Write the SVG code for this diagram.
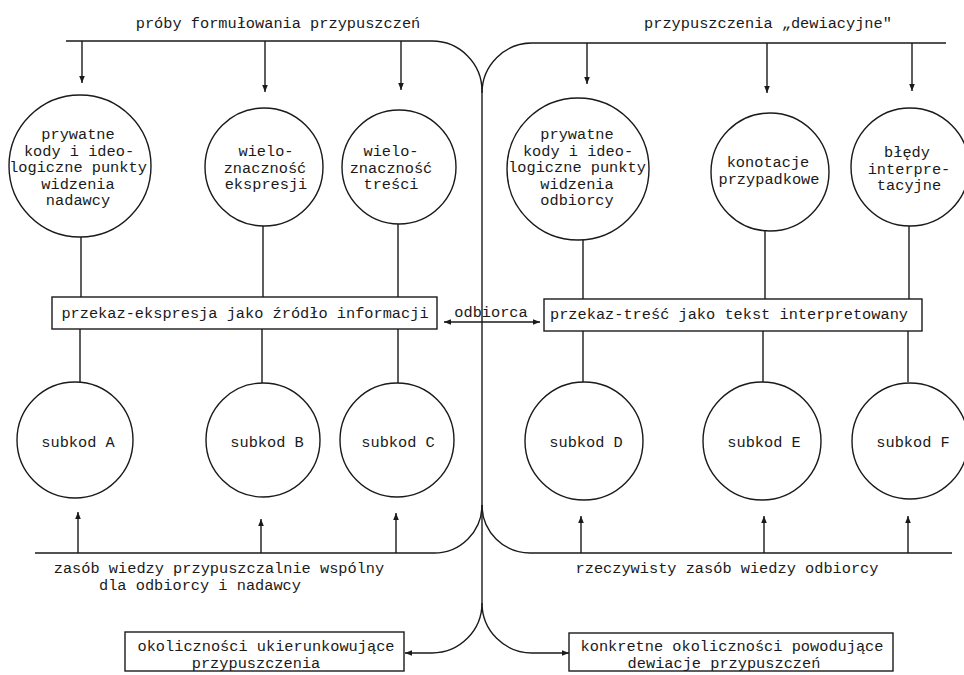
<svg xmlns="http://www.w3.org/2000/svg" width="964" height="675" viewBox="0 0 964 675">
<style>
text{font-family:"Liberation Mono","DejaVu Sans Mono",monospace;font-size:15.3px;fill:#1a1a1a;text-anchor:middle}
.n{fill:none;stroke:#1a1a1a;stroke-width:1.4}
.c{fill:none;stroke:#1a1a1a;stroke-width:1.4}
</style>
<defs>
<marker id="ah" viewBox="0 0 10 10" refX="10" refY="5" markerWidth="8" markerHeight="7" markerUnits="userSpaceOnUse" orient="auto-start-reverse">
<path d="M0,1 L10,5 L0,9 z" fill="#1a1a1a"/>
</marker>
</defs>
<rect width="964" height="675" fill="#fff"/>

<g id="labels">
<text x="278" y="28">próby formułowania przypuszczeń</text>
<text x="768" y="28">przypuszczenia „dewiacyjne"</text>
<text x="219" y="573">zasób wiedzy przypuszczalnie wspólny</text>
<text x="200" y="590">dla odbiorcy i nadawcy</text>
<text x="727" y="573">rzeczywisty zasób wiedzy odbiorcy</text>
</g>

<g id="connectors">
<path class="c" d="M66,41 H432 A50,50 0 0 1 482,91"/>
<path class="c" d="M482,93 A50,50 0 0 1 532,43 H946"/>
<path class="c" d="M482,91 V603"/>
<path class="c" d="M35,553 H434 A48,48 0 0 0 482,505"/>
<path class="c" d="M482,505 A48,48 0 0 0 530,553 H952"/>
<path class="c" d="M482,603 A50,50 0 0 1 432,653 H405" marker-end="url(#ah)"/>
<path class="c" d="M482,603 A50,50 0 0 0 532,653 H569" marker-end="url(#ah)"/>
<line class="c" x1="444" y1="322" x2="540" y2="322" marker-start="url(#ah)" marker-end="url(#ah)"/>
<line class="c" x1="82" y1="41" x2="82" y2="83" marker-end="url(#ah)"/>
<line class="c" x1="265" y1="41" x2="265" y2="92" marker-end="url(#ah)"/>
<line class="c" x1="401" y1="41" x2="401" y2="90" marker-end="url(#ah)"/>
<line class="c" x1="587" y1="43" x2="587" y2="84" marker-end="url(#ah)"/>
<line class="c" x1="767" y1="43" x2="767" y2="93" marker-end="url(#ah)"/>
<line class="c" x1="912" y1="43" x2="912" y2="91" marker-end="url(#ah)"/>
<line class="c" x1="78" y1="553" x2="78" y2="512" marker-end="url(#ah)"/>
<line class="c" x1="261" y1="553" x2="261" y2="519" marker-end="url(#ah)"/>
<line class="c" x1="396" y1="553" x2="396" y2="513" marker-end="url(#ah)"/>
<line class="c" x1="581" y1="553" x2="581" y2="516" marker-end="url(#ah)"/>
<line class="c" x1="764" y1="553" x2="764" y2="516" marker-end="url(#ah)"/>
<line class="c" x1="908" y1="553" x2="908" y2="516" marker-end="url(#ah)"/>
<line class="c" x1="81" y1="237" x2="81" y2="297"/>
<line class="c" x1="263" y1="226" x2="263" y2="297"/>
<line class="c" x1="398" y1="224" x2="398" y2="297"/>
<line class="c" x1="583" y1="240" x2="583" y2="299"/>
<line class="c" x1="765" y1="231" x2="765" y2="299"/>
<line class="c" x1="909" y1="226" x2="909" y2="299"/>
<line class="c" x1="80" y1="329" x2="80" y2="382"/>
<line class="c" x1="262" y1="329" x2="262" y2="383"/>
<line class="c" x1="398" y1="329" x2="398" y2="383"/>
<line class="c" x1="583" y1="331" x2="583" y2="382"/>
<line class="c" x1="763" y1="331" x2="763" y2="382"/>
<line class="c" x1="908" y1="331" x2="908" y2="382"/>
</g>

<g id="odbiorca"><text x="491" y="317">odbiorca</text></g>

<g id="c1"><circle class="n" cx="80" cy="166" r="71"/>
<text x="78" y="139">prywatne</text><text x="79" y="155.5">kody i ideo-</text><text x="78" y="172">logiczne punkty</text><text x="78" y="188.5">widzenia</text><text x="78" y="205">nadawcy</text></g>
<g id="c2"><circle class="n" cx="264" cy="167" r="59"/>
<text x="266" y="156">wielo-</text><text x="265" y="172.5">znaczność</text><text x="266" y="189">ekspresji</text></g>
<g id="c3"><circle class="n" cx="399" cy="167" r="57"/>
<text x="391" y="156">wielo-</text><text x="391" y="172.5">znaczność</text><text x="391" y="189">treści</text></g>
<g id="c4"><circle class="n" cx="578" cy="169" r="71"/>
<text x="577" y="139">prywatne</text><text x="578" y="155.5">kody i ideo-</text><text x="577" y="172">logiczne punkty</text><text x="577" y="188.5">widzenia</text><text x="577" y="205">odbiorcy</text></g>
<g id="c5"><circle class="n" cx="770" cy="172" r="59"/>
<text x="768" y="167">konotacje</text><text x="769" y="183.5">przypadkowe</text></g>
<g id="c6"><circle class="n" cx="910" cy="167" r="59"/>
<text x="907" y="157">błędy</text><text x="909" y="173.5">interpre-</text><text x="909" y="190">tacyjne</text></g>

<g id="box1"><rect class="n" x="52" y="297" width="385" height="32"/>
<text x="245" y="318">przekaz-ekspresja jako źródło informacji</text></g>
<g id="box2"><rect class="n" x="544" y="299" width="378" height="32"/>
<text x="729" y="319">przekaz-treść jako tekst interpretowany</text></g>

<g id="sA"><circle class="n" cx="75" cy="440" r="58"/><text x="78" y="447">subkod A</text></g>
<g id="sB"><circle class="n" cx="263" cy="440" r="57"/><text x="267" y="447">subkod B</text></g>
<g id="sC"><circle class="n" cx="397" cy="440" r="57"/><text x="398" y="447">subkod C</text></g>
<g id="sD"><circle class="n" cx="584" cy="441" r="59"/><text x="586" y="447">subkod D</text></g>
<g id="sE"><circle class="n" cx="762" cy="441" r="59"/><text x="764" y="447">subkod E</text></g>
<g id="sF"><circle class="n" cx="910" cy="441" r="58"/><text x="913" y="447">subkod F</text></g>

<g id="box3"><rect class="n" x="125" y="632" width="279" height="39"/>
<text x="266" y="651">okoliczności ukierunkowujące</text><text x="256" y="667.5">przypuszczenia</text></g>
<g id="box4"><rect class="n" x="569" y="633" width="324" height="38"/>
<text x="732" y="651">konkretne okoliczności powodujące</text><text x="724" y="667.5">dewiacje przypuszczeń</text></g>
</svg>
